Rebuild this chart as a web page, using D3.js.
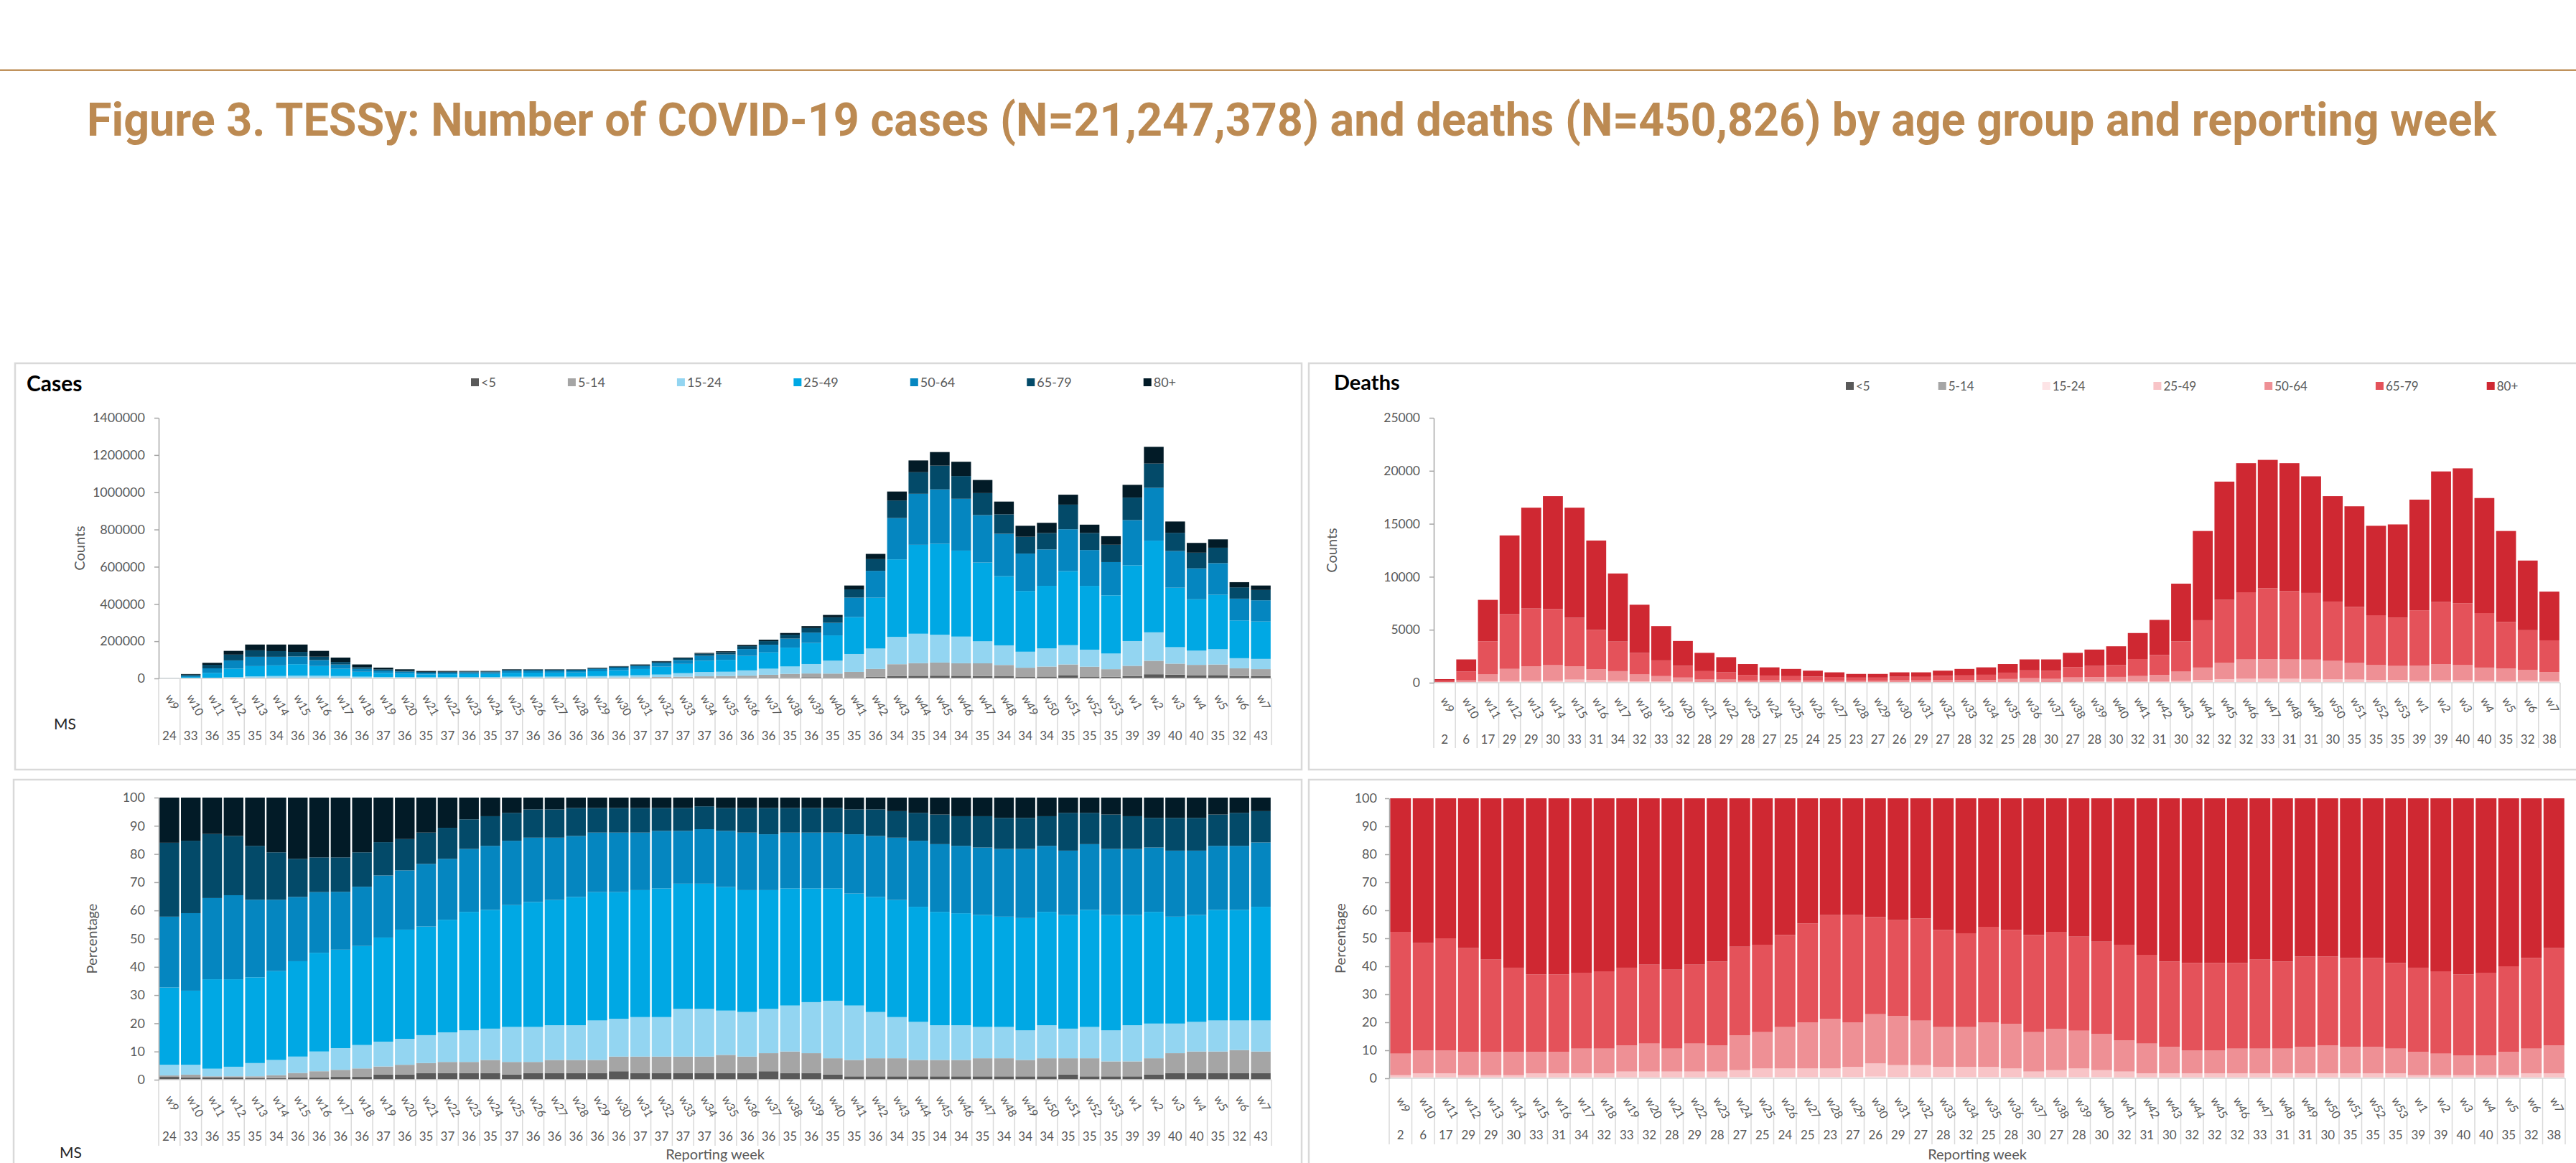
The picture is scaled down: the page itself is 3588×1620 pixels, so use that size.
<!DOCTYPE html>
<html>
<head>
<meta charset="utf-8">
<script src="https://cdn.jsdelivr.net/npm/d3@7"></script>
<style>
  body { margin: 0; background: #fff; }
  svg text { font-family: Lato, "Liberation Sans", sans-serif; }
</style>
</head>
<body>
<svg id="figure" width="3588" height="1620"></svg>
<script>
// Reporting weeks (w9 2020 .. w7 2021)
const weeks = ['w9','w10','w11','w12','w13','w14','w15','w16','w17','w18','w19','w20','w21','w22','w23','w24','w25','w26','w27','w28',
  'w29','w30','w31','w32','w33','w34','w35','w36','w37','w38','w39','w40','w41','w42','w43','w44','w45','w46','w47','w48',
  'w49','w50','w51','w52','w53','w1','w2','w3','w4','w5','w6','w7'];

const ageGroups = ['<5', '5-14', '15-24', '25-49', '50-64', '65-79', '80+'];

// Number of reporting member states per week
const casesMS = [24,33,36,35,35,34,36,36,36,36,37,36,35,37,36,35,37,36,36,36,36,36,37,
  37,37,37,36,36,36,35,36,35,35,36,34,35,34,34,35,34,34,34,35,35,35,39,39,40,40,35,32,43];
const deathsMS = [2,6,17,29,29,30,33,31,34,32,33,32,28,29,28,27,25,24,25,23,27,26,29,
  27,28,32,25,28,30,27,28,30,32,31,30,32,32,32,33,31,31,30,35,35,35,39,39,40,40,35,32,38];

// Weekly totals
const casesTotal = [2000,23600,84000,148000,182000,182000,182000,148000,112000,75000,
  58000,49000,40000,40000,40000,40000,49000,49000,49000,49000,
  58000,66000,75000,93000,112000,137000,146000,180000,208000,244000,
  281000,341000,499000,669000,1004000,1171000,1216000,1164000,1066000,950000,
  820000,836000,987000,826000,764000,1040000,1244000,843000,728000,747000,
  517000,499000];
const deathsTotal = [340,2200,7820,13900,16520,17610,16520,13420,10310,7360,
  5340,3940,2820,2410,1760,1450,1300,1140,980,830,
  830,980,980,1140,1300,1450,1760,2200,2200,2820,
  3130,3440,4690,5930,9350,14320,18980,20720,21030,20720,
  19480,17610,16650,14810,14940,17280,19940,20230,17430,14320,
  11530,8600];

// Share of cases by age group, %
const casesU5 = [1.0,0.8,0.9,0.8,0.6,0.6,0.8,0.8,1.0,1.0, 1.8,1.8,2.4,2.4,2.4,2.4,1.8,2.4,2.4,2.4,
  2.4,3.0,2.4,2.4,2.4,2.4,2.4,2.4,3.0,2.4, 2.4,1.8,1.2,1.2,1.2,1.2,1.2,1.2,1.2,1.2,
  1.2,1.2,1.8,1.2,1.2,1.2,1.8,2.4,2.4,2.4, 2.4,2.4];
const cases5to14 = [0.5,1.0,0.3,0.4,0.6,1.0,1.6,2.2,2.5,3.0, 2.9,3.5,3.5,3.9,3.9,4.6,4.5,3.9,4.6,4.6,
  4.6,5.2,5.8,5.8,5.8,5.8,6.4,5.8,6.4,7.6, 7.0,5.8,5.8,6.4,6.4,5.8,5.8,5.8,6.4,6.4,
  5.8,6.4,5.8,6.4,5.3,5.3,5.8,7.0,7.6,7.6, 8.1,7.6];
const cases15to24 = [3.8,3.5,2.7,3.4,4.7,5.4,5.8,7.0,7.7,8.3, 8.8,9.2,9.9,10.5,11.2,11.1,12.4,12.4,12.3,12.3,
  14.0,13.4,14.0,14.0,16.9,16.9,15.7,15.8,15.7,16.3, 18.1,20.4,19.3,16.4,14.6,13.5,12.3,12.3,11.1,11.1,
  10.5,11.7,10.5,11.1,11.0,12.8,12.3,10.5,10.5,11.0, 10.5,11.0];
const cases25to49 = [27.4,26.3,31.7,31.0,30.4,31.5,33.8,35.0,34.9,35.1, 36.9,38.7,38.5,39.9,42.0,42.1,43.2,44.3,44.4,45.5,
  45.5,44.9,45.0,45.6,44.4,44.4,43.8,43.2,42.1,41.5, 40.3,39.8,39.7,40.8,41.5,40.8,40.2,39.7,39.7,39.1,
  39.8,40.2,40.3,41.5,40.9,39.1,39.6,37.9,37.9,39.2, 39.2,40.3];
const cases50to64 = [25.1,27.5,28.8,29.8,27.5,25.3,22.8,21.5,20.5,21.0, 22.0,21.0,22.2,21.6,22.3,22.7,22.8,22.8,22.1,21.6,
  21.1,21.1,20.4,20.4,18.7,19.3,19.9,20.4,19.8,19.8, 19.8,19.8,21.0,21.6,22.1,23.4,24.0,23.9,23.9,24.0,
  24.5,23.4,22.8,23.3,23.4,23.4,22.8,23.4,22.8,22.7, 22.7,22.8];
const cases65to79 = [26.2,25.7,22.7,21.0,19.1,16.8,13.5,12.3,12.2,12.2, 11.8,11.1,11.1,11.0,10.5,10.5,9.9,10.0,10.0,9.9,
  8.7,8.7,8.7,8.1,8.1,8.1,8.1,8.7,9.3,8.7, 8.7,8.7,8.8,9.4,9.4,9.9,10.5,10.5,11.1,11.0,
  11.0,10.5,13.4,11.1,12.2,11.6,10.5,11.6,11.6,11.1, 11.7,11.1];
const cases80plus = [16.0,15.3,12.9,13.6,17.1,19.4,21.7,21.2,21.2,19.4, 15.8,14.7,12.4,10.7,7.7,6.6,5.4,4.2,4.2,3.7,
  3.7,3.7,3.7,3.7,3.7,3.1,3.7,3.7,3.7,3.7, 3.7,3.7,4.2,4.2,4.8,5.4,6.0,6.6,6.6,7.2,
  7.2,6.6,5.4,5.4,6.0,6.6,7.2,7.2,7.2,6.0, 5.4,4.8];

// Share of deaths by age group, %
const deathsU5 = [0,0,0,0,0,0,0,0,0,0, 0,0,0,0,0,0,0,0,0,0, 0,0,0,0,0,0,0,0,0,0,
  0,0,0,0,0,0,0,0,0,0, 0,0,0,0,0,0,0,0,0,0, 0,0];
const deaths5to14 = [0.1,0.1,0.1,0.1,0.1,0.1,0.1,0.1,0.1,0.1, 0.1,0.1,0.1,0.1,0.1,0.1,0.1,0.1,0.1,0.1,
  0.1,0.1,0.1,0.1,0.1,0.1,0.1,0.1,0.1,0.1, 0.1,0.1,0.1,0.1,0.1,0.1,0.1,0.1,0.1,0.1,
  0.1,0.1,0.1,0.1,0.1,0.1,0.1,0.1,0.1,0.1, 0.1,0.1];
const deaths15to24 = [0.2,0.2,0.2,0.2,0.2,0.2,0.2,0.2,0.2,0.2, 0.2,0.2,0.2,0.2,0.2,0.3,0.3,0.3,0.3,0.3,
  0.4,0.5,0.4,0.4,0.4,0.4,0.4,0.3,0.2,0.3, 0.3,0.3,0.2,0.2,0.2,0.2,0.2,0.2,0.2,0.2,
  0.2,0.2,0.2,0.2,0.2,0.2,0.2,0.2,0.2,0.2, 0.2,0.2];
const deaths25to49 = [0.8,1.5,1.5,0.8,0.8,0.8,1.5,1.5,1.5,1.5, 2.1,2.1,2.1,2.1,2.1,2.5,3.1,3.1,3.1,3.1,
  3.6,4.7,4.2,4.2,3.6,3.6,3.6,3.1,2.1,2.5, 3.1,2.5,2.1,1.5,1.5,1.5,1.5,1.5,1.5,1.5,
  1.5,1.5,1.5,1.5,1.5,0.8,0.8,0.8,0.8,0.8, 1.5,1.5];
const deaths50to64 = [7.7,8.2,8.2,8.3,8.3,8.3,7.6,7.6,8.8,8.8, 9.3,10.0,8.2,10.0,9.3,12.4,13.0,14.8,16.5,17.7,
  15.9,17.6,17.6,15.9,14.2,14.2,15.9,15.9,14.1,14.8, 13.5,13.0,11.1,10.6,9.4,8.2,8.2,8.8,8.8,8.8,
  9.4,9.9,9.4,9.4,8.8,8.3,7.7,7.1,7.1,8.3, 8.8,9.9];
const deaths65to79 = [43.5,38.3,40.0,37.1,33.0,30.1,27.7,27.7,27.1,27.6, 27.8,28.2,28.2,28.2,30.0,31.7,31.2,32.9,35.3,37.1,
  38.3,34.7,34.2,36.5,34.7,33.5,34.1,33.6,34.7,34.6, 33.6,32.9,34.2,31.7,30.5,31.2,31.2,30.6,31.8,31.1,
  32.3,31.8,31.8,31.8,30.6,30.1,29.4,28.9,29.5,30.6, 32.4,34.8];
const deaths80plus = [47.7,51.7,50.0,53.5,57.6,60.5,62.9,62.9,62.3,61.8, 60.5,59.4,61.2,59.4,58.3,53.0,52.3,48.8,44.7,41.7,
  41.7,42.4,43.5,42.9,47.0,48.2,45.9,47.0,48.8,47.7, 49.4,51.2,52.3,55.9,58.3,58.8,58.8,58.8,57.6,58.3,
  56.5,56.5,57.0,57.0,58.8,60.5,61.8,62.9,62.3,60.0, 57.0,53.5];

// Axis tick labels
const casesCountTicks = [0, 200000, 400000, 600000, 800000, 1000000, 1200000, 1400000];
const deathsCountTicks = [0, 5000, 10000, 15000, 20000, 25000];
const pctTicks = [0, 10, 20, 30, 40, 50, 60, 70, 80, 90, 100];

const titleText = 'Figure 3. TESSy: Number of COVID-19 cases (N=21,247,378) and deaths (N=450,826) by age group and reporting week';

const casesColors = ['#595959', '#a5a5a5', '#93d5f1', '#00a8e4', '#0586c0', '#034a69', '#021b27'];
const deathsColors = ['#595959', '#a5a5a5', '#fde4e6', '#f8c4c7', '#ee9095', '#e4525a', '#cf2832'];

// Build rows: counts = total * share, percentages = share normalised to 100
function buildRows(shares, totals) {
  const counts = [], pcts = [];
  weeks.forEach((w, i) => {
    const s = shares.map(a => a[i]);
    const sum = d3.sum(s);
    const c = { week: w }, p = { week: w };
    ageGroups.forEach((k, j) => {
      c[k] = totals[i] * s[j] / sum;
      p[k] = s[j] / sum * 100;
    });
    counts.push(c);
    pcts.push(p);
  });
  return { counts, pcts };
}

const casesRows = buildRows([casesU5, cases5to14, cases15to24, cases25to49, cases50to64, cases65to79, cases80plus], casesTotal);
const deathsRows = buildRows([deathsU5, deaths5to14, deaths15to24, deaths25to49, deaths50to64, deaths65to79, deaths80plus], deathsTotal);

const svg = d3.select('#figure');

// Header rule and title
svg.append('rect')
  .attr('x', 0).attr('y', 96.5).attr('width', 3588).attr('height', 2.5)
  .attr('fill', '#c0925c');

svg.append('text')
  .attr('x', 121).attr('y', 189)
  .attr('textLength', 3356).attr('lengthAdjust', 'spacingAndGlyphs')
  .style('font-family', 'Roboto, sans-serif')
  .style('font-weight', 700)
  .style('font-size', '64px')
  .attr('fill', '#bc8a52')
  .text(titleText);

// Panel frames
const frames = [
  { x: 21, y: 506, w: 1792, h: 566 },
  { x: 1823, y: 506, w: 1800, h: 566 },
  { x: 19, y: 1086, w: 1794, h: 600 },
  { x: 1823, y: 1086, w: 1800, h: 600 },
];
svg.selectAll('rect.frame').data(frames).join('rect')
  .attr('class', 'frame')
  .attr('x', d => d.x).attr('y', d => d.y)
  .attr('width', d => d.w).attr('height', d => d.h)
  .attr('fill', 'none').attr('stroke', '#d9d9d9').attr('stroke-width', 2.5);

function drawLegend(x0, y0, colors, fontSize, gap) {
  const g = svg.append('g');
  let x = x0;
  ageGroups.forEach((k, i) => {
    g.append('rect')
      .attr('x', x).attr('y', y0 - 6).attr('width', 11).attr('height', 11)
      .attr('fill', colors[i]);
    const t = g.append('text')
      .attr('x', x + 14).attr('y', y0 + 6)
      .attr('fill', '#595959')
      .style('font-size', fontSize + 'px')
      .text(k);
    x += 14 + t.node().getComputedTextLength() + gap;
  });
}

function drawChart(cfg) {
  const g = svg.append('g');
  const x = d3.scaleBand().domain(weeks)
    .range([cfg.left, cfg.right])
    .paddingInner(0.08).paddingOuter(0.04);
  const y = d3.scaleLinear().domain([0, cfg.max]).range([cfg.bottom, cfg.top]);
  const step = x.step();

  const series = d3.stack().keys(ageGroups)(cfg.rows);
  g.append('g').selectAll('g').data(series).join('g')
    .attr('fill', (d, i) => cfg.colors[i])
    .selectAll('rect').data(d => d).join('rect')
    .attr('x', d => x(d.data.week))
    .attr('width', x.bandwidth())
    .attr('y', d => y(d[1]))
    .attr('height', d => Math.max(0, y(d[0]) - y(d[1])));

  // category axis: baseline + separators through the label table
  g.append('line')
    .attr('x1', cfg.left).attr('x2', cfg.right)
    .attr('y1', cfg.bottom).attr('y2', cfg.bottom)
    .attr('stroke', '#d9d9d9').attr('stroke-width', 1.5);
  g.append('g').selectAll('line').data(d3.range(weeks.length + 1)).join('line')
    .attr('x1', i => cfg.left + i * step).attr('x2', i => cfg.left + i * step)
    .attr('y1', cfg.bottom).attr('y2', cfg.sepBottom)
    .attr('stroke', '#d9d9d9').attr('stroke-width', 1.5);

  g.append('g').selectAll('text').data(weeks).join('text')
    .attr('transform', w => `translate(${x(w) + x.bandwidth() / 2 - 6},${cfg.weekY}) rotate(62)`)
    .attr('fill', '#595959')
    .style('font-size', '16px')
    .text(w => w);

  g.append('g').selectAll('text').data(cfg.ms).join('text')
    .attr('x', (d, i) => x(weeks[i]) + x.bandwidth() / 2)
    .attr('y', cfg.msY)
    .attr('text-anchor', 'middle')
    .attr('fill', '#595959')
    .style('font-size', '17px')
    .text(d => d);

  // value axis
  const axis = g.append('g')
    .attr('transform', `translate(${cfg.left},0)`)
    .call(d3.axisLeft(y).tickValues(cfg.ticks).tickSize(6).tickSizeOuter(0).tickPadding(cfg.tickPad).tickFormat(d3.format('d')));
  axis.attr('font-family', 'Lato, sans-serif').attr('font-size', cfg.tickFont);
  axis.select('.domain').attr('stroke', '#a6a6a6').attr('stroke-width', 1.5);
  axis.selectAll('.tick line').attr('stroke', '#a6a6a6').attr('stroke-width', 1.5);
  axis.selectAll('.tick text').attr('fill', '#595959');

  g.append('text')
    .attr('transform', `translate(${cfg.yTitleX},${(cfg.top + cfg.bottom) / 2}) rotate(-90)`)
    .attr('text-anchor', 'middle')
    .attr('fill', '#595959')
    .style('font-size', '20px')
    .text(cfg.yTitle);

  if (cfg.xTitle) {
    g.append('text')
      .attr('x', (cfg.left + cfg.right) / 2).attr('y', 1615)
      .attr('text-anchor', 'middle')
      .attr('fill', '#595959')
      .style('font-size', '20px')
      .text(cfg.xTitle);
  }
}

// Cases: counts
svg.append('text').attr('x', 37).attr('y', 545)
  .style('font-weight', 700).style('font-size', '30px').attr('fill', '#000')
  .text('Cases');
drawLegend(656, 533, casesColors, 18, 100);
drawChart({
  rows: casesRows.counts, colors: casesColors, ms: casesMS,
  left: 221, right: 1771, top: 582, bottom: 945, max: 1400000,
  ticks: casesCountTicks, tickPad: 13, tickFont: 18,
  weekY: 971, msY: 1031, sepBottom: 1038,
  yTitle: 'Counts', yTitleX: 118
});
svg.append('text').attr('x', 75).attr('y', 1016)
  .style('font-size', '21px').attr('fill', '#262626').text('MS');

// Cases: percentages
drawChart({
  rows: casesRows.pcts, colors: casesColors, ms: casesMS,
  left: 221, right: 1771, top: 1111, bottom: 1504, max: 100,
  ticks: pctTicks, tickPad: 13, tickFont: 18,
  weekY: 1530, msY: 1589, sepBottom: 1596,
  yTitle: 'Percentage', yTitleX: 135, xTitle: 'Reporting week'
});
svg.append('text').attr('x', 83).attr('y', 1613)
  .style('font-size', '21px').attr('fill', '#262626').text('MS');

// Deaths: counts
svg.append('text').attr('x', 1858).attr('y', 543)
  .style('font-weight', 700).style('font-size', '29px').attr('fill', '#000')
  .text('Deaths');
drawLegend(2571, 538, deathsColors, 17, 95);
drawChart({
  rows: deathsRows.counts, colors: deathsColors, ms: deathsMS,
  left: 1997, right: 3566, top: 582, bottom: 951, max: 25000,
  ticks: deathsCountTicks, tickPad: 13, tickFont: 17.5,
  weekY: 975, msY: 1036, sepBottom: 1042,
  yTitle: 'Counts', yTitleX: 1862
});

// Deaths: percentages
drawChart({
  rows: deathsRows.pcts, colors: deathsColors, ms: deathsMS,
  left: 1935, right: 3573, top: 1112, bottom: 1502, max: 100,
  ticks: pctTicks, tickPad: 11, tickFont: 18,
  weekY: 1532, msY: 1587, sepBottom: 1594,
  yTitle: 'Percentage', yTitleX: 1874, xTitle: 'Reporting week'
});
</script>
</body>
</html>
